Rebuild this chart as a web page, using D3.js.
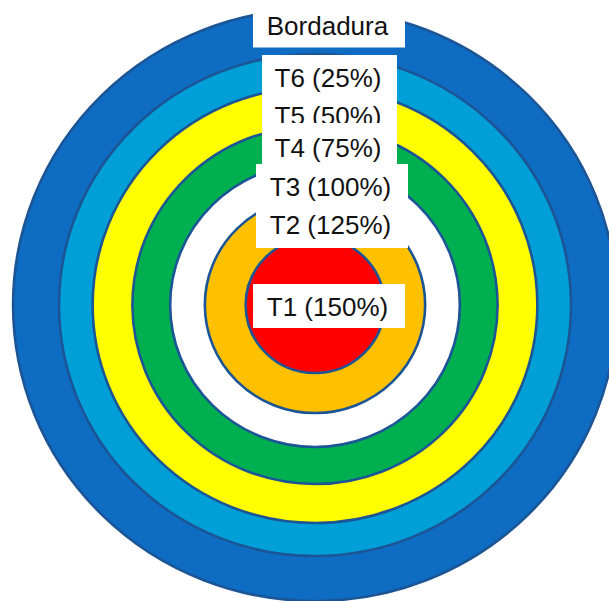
<!DOCTYPE html>
<html>
<head>
<meta charset="utf-8">
<script src="https://cdn.jsdelivr.net/npm/d3@7"></script>
<style>
  body { margin: 0; background: #fff; }
  svg { display: block; }
</style>
</head>
<body>
<svg id="chart"></svg>
<script>
// Rings from the centre outwards
const rings = ["T1", "T2", "T3", "T4", "T5", "T6", "Bordadura"];
const ringRadius = [68, 108, 142, 179, 218, 251, 296];
const ringColors = ["#ff0000", "#ffc000", "#ffffff", "#00b050", "#ffff00", "#019fd8", "#0e6dc3"];

// Label texts, grouped by the white box they sit in
const labelGroups = [
  ["Bordadura"],
  ["T6 (25%)", "T5 (50%)"],
  ["T4 (75%)"],
  ["T3 (100%)", "T2 (125%)"],
  ["T1 (150%)"]
];

const width = 609, height = 601;
const cx = 315, cy = 305;

const svg = d3.select("#chart")
  .attr("width", width)
  .attr("height", height);

// radius scales (rings are a touch wider than tall)
const rx = d3.scaleLinear().domain([0, 300]).range([0, 306]);
const ry = d3.scaleLinear().domain([0, 300]).range([0, 300]);

const ringData = rings.map((name, i) => ({ name, r: ringRadius[i], color: ringColors[i] }))
  .reverse(); // draw outermost first

svg.append("g")
  .selectAll("ellipse")
  .data(ringData)
  .join("ellipse")
  .attr("cx", cx)
  .attr("cy", cy)
  .attr("rx", d => rx(d.r))
  .attr("ry", d => ry(d.r))
  .attr("fill", d => d.color)
  .attr("stroke", "#1b5596")
  .attr("stroke-width", 2.6);

// box layout for each label group: left, right, top, bottom, text baselines
const boxLayout = [
  { x0: 253, x1: 405, y0: 6,   y1: 47.5, base: [35] },
  { x0: 262, x1: 397, y0: 55,  y1: 130,  base: [87, 125] },
  { x0: 262, x1: 397, y0: 123, y1: 164,  base: [156.5] },
  { x0: 256, x1: 408, y0: 164, y1: 248,  base: [196, 233.5] },
  { x0: 253, x1: 405, y0: 284, y1: 328,  base: [316] }
];

const labels = svg.append("g");
labelGroups.forEach((lines, i) => {
  const b = boxLayout[i];
  const g = labels.append("g");
  g.append("rect")
    .attr("x", b.x0)
    .attr("y", b.y0)
    .attr("width", b.x1 - b.x0)
    .attr("height", b.y1 - b.y0)
    .attr("fill", "#fff");
  g.selectAll("text")
    .data(lines)
    .join("text")
    .attr("x", (b.x0 + b.x1) / 2 - 1.5)
    .attr("y", (d, j) => b.base[j])
    .attr("text-anchor", "middle")
    .attr("font-family", "'Liberation Sans', Arial, sans-serif")
    .attr("font-size", 26)
    .attr("fill", "#111")
    .text(d => d);
});
</script>
</body>
</html>
